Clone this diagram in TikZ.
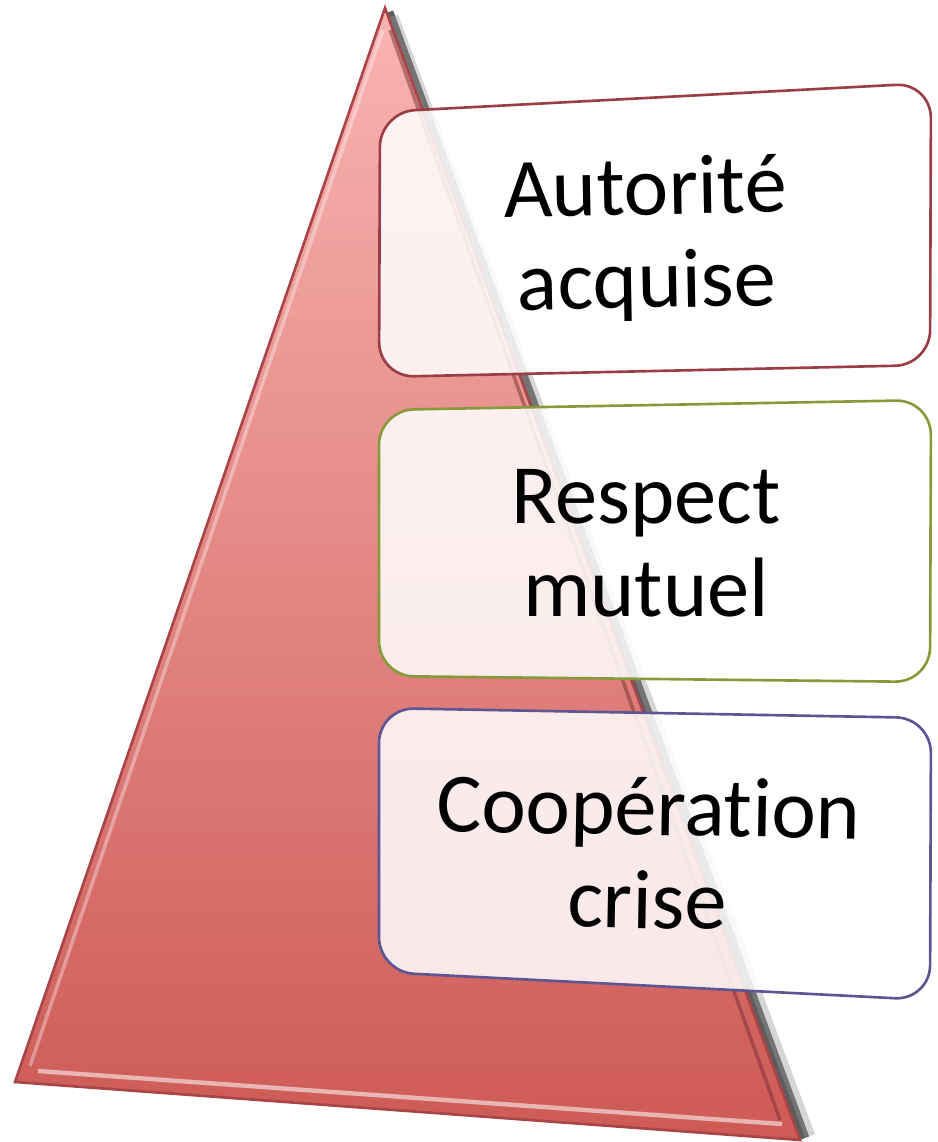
\documentclass[tikz,border=0pt]{standalone}
\usepackage{fontspec}
\setmainfont[Ligatures=NoCommon]{Carlito}
\definecolor{tritop}{HTML}{F9B4B2}
\definecolor{trimid}{HTML}{EE8682}
\definecolor{tribot}{HTML}{CD5A55}
\definecolor{triedge}{HTML}{A94548}
\definecolor{redline}{HTML}{9A3D45}
\definecolor{greenline}{HTML}{879A3A}
\definecolor{violetline}{HTML}{5E5592}

\begin{document}
\begin{tikzpicture}[x=0.02cm,y=-0.02cm,
	card/.style={fill=white,fill opacity=0.86,draw=#1,line width=1.5pt,rounded corners=0.7cm},
	cardtext/.style={font=\fontsize{48}{53}\selectfont,align=center,text=black}]
	\useasboundingbox (0,0) rectangle (937,1142);

	% pyramid with its shadow
	\draw[black!80,line width=5pt,opacity=0.8] (389,12) -- (805,1138);
	\draw[black!40,line width=6pt,opacity=0.4] (393,16) -- (810,1136);
	\shade[top color=tritop,middle color=trimid,bottom color=tribot,draw=triedge,line width=1.5pt]
		(385,8) -- (15,1082) -- (800,1140) -- cycle;
	\draw[white,opacity=0.55,line width=2.5pt] (38,1071) -- (782,1124);
	\draw[white,opacity=0.35,line width=2pt] (383,30) -- (30,1066);
	\draw[triedge!70!black,opacity=0.5,line width=2pt] (390,30) -- (780,1120);

	% boxes
	\draw[card=redline] (380,112) -- (931,83) -- (930,365) -- (379,377) -- cycle;
	\draw[card=greenline] (379,410) -- (931,400) -- (930,682) -- (379,676) -- cycle;
	\draw[card=violetline] (379,708) -- (931,718) -- (930,1000) -- (379,972) -- cycle;

	\node[cardtext,rotate=1] (autorite) at (646,239) {Autorité\\acquise};
	\node[cardtext] (respect) at (646,543) {Respect\\mutuel};
	\node[cardtext,rotate=-1] (cooperation) at (648,853) {Coopération\\crise};
\end{tikzpicture}
\end{document}
